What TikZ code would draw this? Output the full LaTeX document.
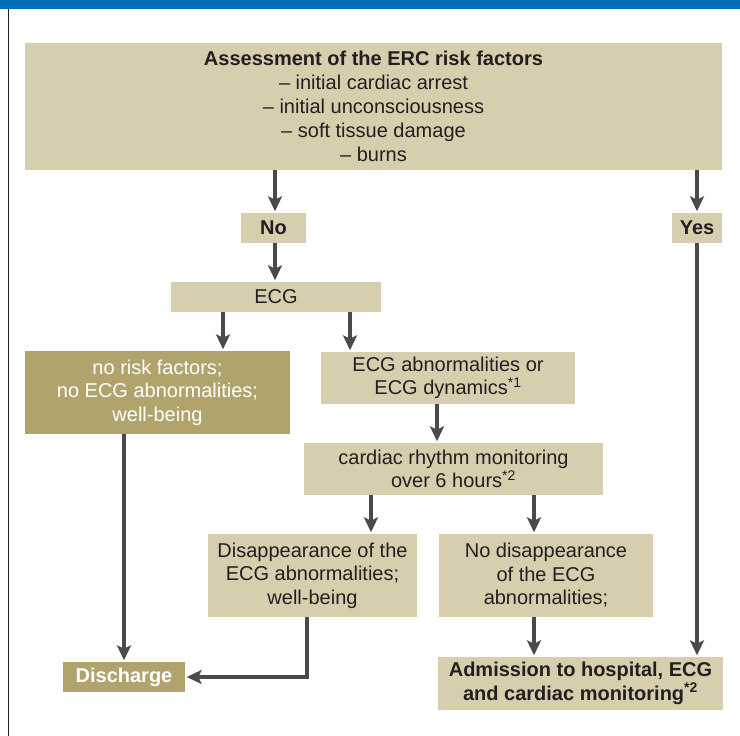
\documentclass[tikz,border=0pt]{standalone}
\usepackage{fontspec}
\setmainfont{Liberation Sans}
\usetikzlibrary{arrows.meta,calc}
\definecolor{beige}{RGB}{215,206,174}
\definecolor{olive}{RGB}{176,164,108}
\definecolor{banner}{RGB}{0,112,180}
\definecolor{arrowgray}{RGB}{74,74,76}
\definecolor{txt}{RGB}{35,31,32}
\begin{document}
\begin{tikzpicture}[x=1pt,y=-1pt,
  box/.style={fill=beige,draw=none,inner sep=0pt,align=center,text=txt,
    font=\fontsize{20}{23.5}\selectfont},
  boldbox/.style={box,font=\fontsize{20}{23.5}\selectfont\bfseries},
  darkbox/.style={box,fill=olive,text=white},
  arr/.style={draw=arrowgray,line width=3.6pt,
    -{Stealth[length=15pt,width=14pt,inset=3.5pt]},shorten >=1.5pt}]
\useasboundingbox (0,0) rectangle (740,736);
\fill[banner] (0,0) rectangle (740,9);
\draw[line width=1.8pt,txt] (8.5,9) -- (8.5,736);

\node[box,minimum width=697,minimum height=127,font=\fontsize{20}{24}\selectfont] (top) at (373.5,106.5)
  {\textbf{Assessment of the ERC risk factors}\\
   – initial cardiac arrest\\
   – initial unconsciousness\\
   – soft tissue damage\\
   – burns};
\node[boldbox,minimum width=65,minimum height=30] (no) at (273.5,228) {No};
\node[boldbox,minimum width=50,minimum height=30] (yes) at (697,228) {Yes};
\node[box,minimum width=210,minimum height=30] (ecg) at (276,297) {ECG};
\node[darkbox,minimum width=265,minimum height=83] (risk) at (157.5,392.5)
  {no risk factors;\\no ECG abnormalities;\\well-being};
\node[box,minimum width=254,minimum height=52] (abn) at (448,378)
  {ECG abnormalities or\\ECG dynamics\textsuperscript{*1}};
\node[box,minimum width=299,minimum height=52] (mon) at (453.5,469)
  {cardiac rhythm monitoring\\over 6 hours\textsuperscript{*2}};
\node[box,minimum width=209,minimum height=83] (dis) at (312.5,575.5)
  {Disappearance of the\\ECG abnormalities;\\well-being};
\node[box,minimum width=214,minimum height=83] (nodis) at (546,575.5)
  {No disappearance\\of the ECG\\abnormalities;};
\node[boldbox,minimum width=285,minimum height=53] (adm) at (580.5,683.5)
  {Admission to hospital, ECG\\and cardiac monitoring\textsuperscript{*2}};
\node[boldbox,fill=olive,text=white,minimum width=122,minimum height=30] (disch) at (124,677) {Discharge};

\coordinate (c1) at (223,0);
\coordinate (c2) at (350,0);
\coordinate (c3) at (437,0);
\coordinate (c4) at (371,0);
\coordinate (c5) at (534,0);
\coordinate (c6) at (307,0);
\coordinate (c7) at (275,0);

\draw[arr] (top.south -| c7) -- (no.north -| c7);
\draw[arr] (top.south -| yes.north) -- (yes.north);
\draw[arr] (no.south -| c7) -- (ecg.north -| c7);
\draw[arr] (ecg.south -| c1) -- (risk.north -| c1);
\draw[arr] (ecg.south -| c2) -- (abn.north -| c2);
\draw[arr] (abn.south -| c3) -- (mon.north -| c3);
\draw[arr] (mon.south -| c4) -- (dis.north -| c4);
\draw[arr] (mon.south -| c5) -- (nodis.north -| c5);
\draw[arr] (nodis.south -| c5) -- (adm.north -| c5);
\draw[arr] (yes.south) -- (adm.north -| yes.south);
\draw[arr] (risk.south -| disch.north) -- (disch.north);
\draw[arr] (dis.south -| c6) |- (disch.east);
\end{tikzpicture}
\end{document}
